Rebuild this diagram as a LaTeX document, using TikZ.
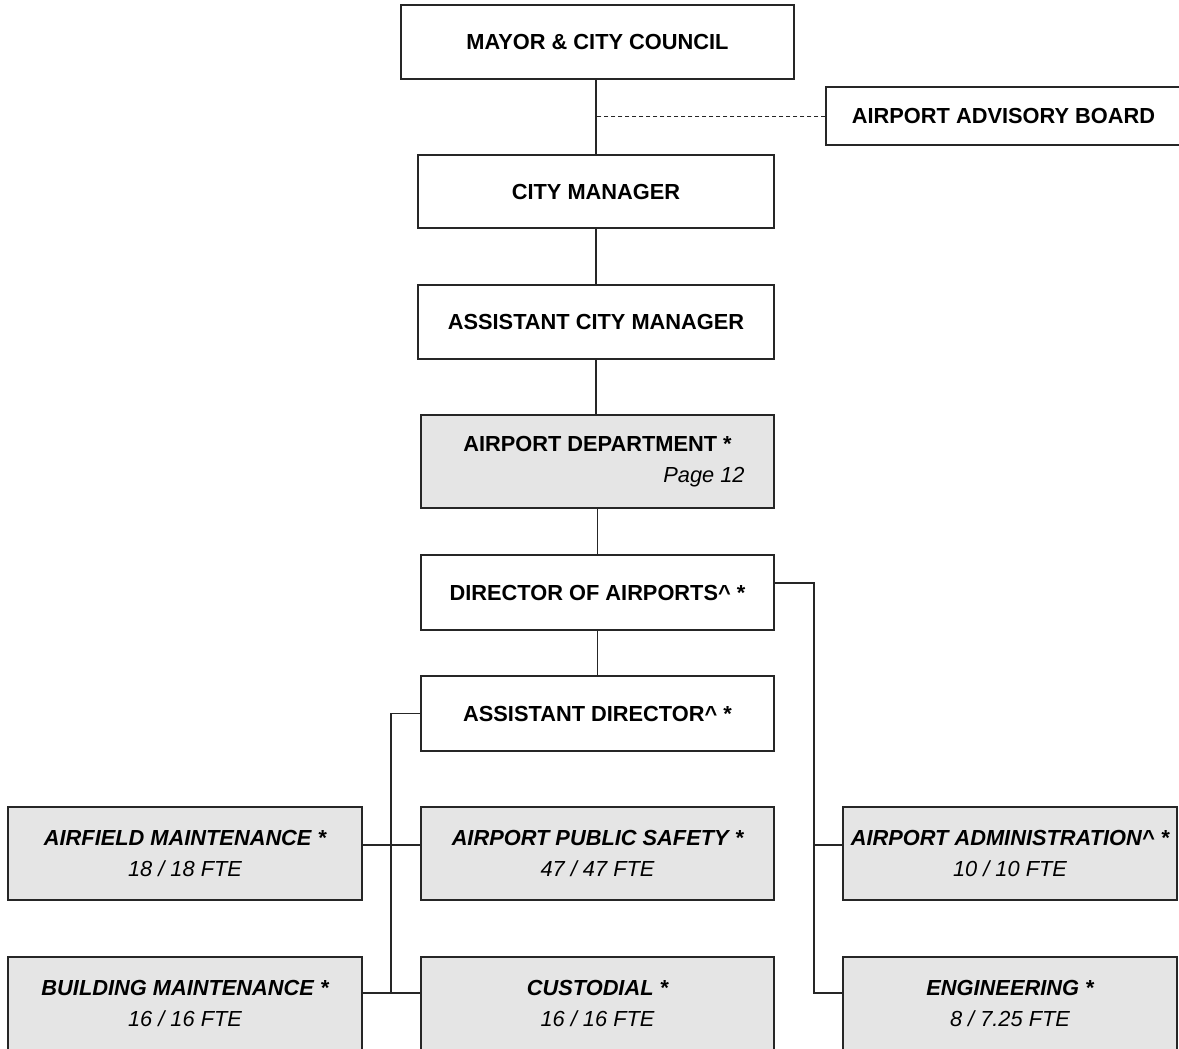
\documentclass[tikz,border=0pt]{standalone}
\usepackage{fontspec}
\setmainfont{Liberation Sans}

\newcommand\orgfont{\fontsize{21.8}{31}\selectfont}

\tikzset{
  unit/.style={draw=black!85, line width=1.3pt, fill=white, inner sep=0pt,
    minimum height=74pt, align=center, font=\orgfont\bfseries},
  shaded/.style={unit, fill=black!10, minimum height=93pt,
    font=\orgfont\bfseries\itshape},
  link/.style={line width=1.3pt, black!85}
}

\begin{document}
\begin{tikzpicture}[x=1pt, y=1pt]
  \useasboundingbox (0,0) rectangle (1179,-1049);

  \node[unit, minimum width=393pt] (mayor) at (597.5,-42) {MAYOR \& CITY COUNCIL};
  \node[unit, minimum width=355pt, minimum height=58pt] (advisory) at (1003.5,-116) {AIRPORT ADVISORY BOARD};
  \node[unit, minimum width=356pt, minimum height=73pt] (citymgr) at (596,-191.5) {CITY MANAGER};
  \node[unit, minimum width=356pt] (asstcm) at (596,-322) {ASSISTANT CITY MANAGER};
  \node[shaded, minimum width=353pt, font=\orgfont\bfseries] (dept) at (597.5,-461.5)
    {AIRPORT DEPARTMENT *\\ \hspace*{213pt}\mdseries\itshape Page 12};
  \node[unit, minimum width=353pt, minimum height=75pt] (director) at (597.5,-592.5) {DIRECTOR OF AIRPORTS\textasciicircum\ *};
  \node[unit, minimum width=353pt, minimum height=75pt] (astdir) at (597.5,-713.5) {ASSISTANT DIRECTOR\textasciicircum\ *};

  \node[shaded, minimum width=354pt] (fieldmaint) at (185,-853.5) {AIRFIELD MAINTENANCE *\\ \mdseries 18 / 18 FTE};
  \node[shaded, minimum width=353pt] (safety) at (597.5,-853.5) {AIRPORT PUBLIC SAFETY *\\ \mdseries 47 / 47 FTE};
  \node[shaded, minimum width=334pt] (admin) at (1010,-853.5) {AIRPORT ADMINISTRATION\textasciicircum\ *\\ \mdseries 10 / 10 FTE};
  \node[shaded, minimum width=354pt] (buildmaint) at (185,-1003.5) {BUILDING MAINTENANCE *\\ \mdseries 16 / 16 FTE};
  \node[shaded, minimum width=353pt] (custodial) at (597.5,-1003.5) {CUSTODIAL *\\ \mdseries 16 / 16 FTE};
  \node[shaded, minimum width=334pt] (eng) at (1010,-1003.5) {ENGINEERING *\\ \mdseries 8 / 7.25 FTE};

  % bus lines
  \coordinate (dout) at ([yshift=9.5pt]director.east);
  \coordinate (rbus) at (814,-583);
  \coordinate (lbus) at (391,-713.5);
  \coordinate (row1) at (0,-845);
  \coordinate (row2) at (0,-993);

  \draw[link] (citymgr.north |- mayor.south) -- (citymgr.north);
  \draw[link, line width=1pt, dash pattern=on 4pt off 3pt] (advisory.west) -- (advisory.west -| citymgr.north);
  \draw[link] (citymgr.south) -- (asstcm.north);
  \draw[link] (asstcm.south) -- (asstcm.south |- dept.north);
  \draw[link] (dept.south) -- (director.north);
  \draw[link] (director.south) -- (astdir.north);

  \draw[link] (astdir.west) -- (lbus) -- (lbus |- row2);
  \draw[link] (fieldmaint.east |- row1) -- (safety.west |- row1);
  \draw[link] (buildmaint.east |- row2) -- (custodial.west |- row2);

  \draw[link] (dout) -- (rbus) -- (rbus |- row2) -- (eng.west |- row2);
  \draw[link] (rbus |- row1) -- (admin.west |- row1);

\end{tikzpicture}
\end{document}
